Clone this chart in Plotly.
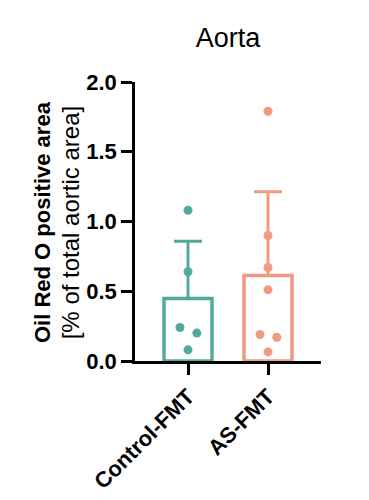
import numpy as np
import plotly.graph_objects as go

categories = ["Control-FMT", "AS-FMT"]
control_values = [1.08, 0.64, 0.24, 0.20, 0.08]
as_values = [1.79, 0.90, 0.67, 0.51, 0.19, 0.17, 0.065]
control_jitter = [0.0, 0.0, -0.1, 0.11, 0.0]
as_jitter = [0.0, 0.0, 0.0, 0.0, -0.1, 0.11, 0.0]
y_ticks = [0, 0.5, 1.0, 1.5, 2.0]

colors = ["#52AB9A", "#F19A81"]
groups = [control_values, as_values]
jitters = [control_jitter, as_jitter]

OFF = 8  # page body margin
fig = go.Figure()
for i, (vals, jit, col) in enumerate(zip(groups, jitters, colors)):
    arr = np.array(vals)
    mean = arr.mean()
    sd = arr.std(ddof=1)
    fig.add_trace(go.Bar(
        x=[i], y=[mean], width=0.6,
        marker=dict(color="white", line=dict(color=col, width=3.5)),
        error_y=dict(type="data", symmetric=False, array=[sd], arrayminus=[0],
                     color=col, thickness=3, width=14),
        showlegend=False, hoverinfo="skip",
    ))
    fig.add_trace(go.Scatter(
        x=[i + j for j in jit], y=vals, mode="markers",
        marker=dict(color=col, size=9),
        showlegend=False,
    ))

fig.update_layout(
    width=369, height=500,
    margin=dict(l=135 - OFF, r=369 - 321 + OFF, t=82 - OFF, b=500 - 361 + OFF),
    paper_bgcolor="white", plot_bgcolor="white",
    font=dict(family="Liberation Sans, Arial, sans-serif", color="black"),
    title=dict(text="Aorta", x=0.5, xref="paper", xanchor="center",
               y=(500 - 38 + OFF) / 500, yref="container", yanchor="middle",
               font=dict(size=27, color="black")),
    barmode="overlay",
)
fig.update_xaxes(
    range=[-0.6625, 1.6625], tickvals=[0, 1], ticktext=categories,
    tickangle=-45, showline=True, linecolor="black", linewidth=2.5,
    ticks="outside", ticklen=11, tickwidth=2.5, tickcolor="black",
    showgrid=False, zeroline=False,
    tickfont=dict(size=22, family="Liberation Sans, Arial, sans-serif", weight="bold"),
)
fig.update_yaxes(
    range=[0, 2.0], tickvals=y_ticks, tickformat=".1f",
    showline=True, linecolor="black", linewidth=2.5,
    ticks="outside", ticklen=11, tickwidth=2.5, tickcolor="black",
    showgrid=False, zeroline=False,
    tickfont=dict(size=22, family="Liberation Sans, Arial, sans-serif", weight="bold"),
)
fig.add_annotation(
    text="<b>Oil Red O positive area</b><br><span style='font-size:24px'>[% of total aortic area]</span>",
    xref="paper", yref="paper",
    x=(57 - 135) / 186, y=(361 - 222) / 279,
    xanchor="center", yanchor="middle", textangle=-90, showarrow=False,
    font=dict(size=22, color="black"),
)

fig.write_html("out.html")
